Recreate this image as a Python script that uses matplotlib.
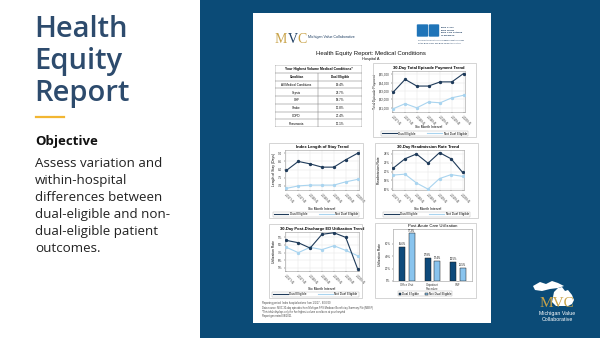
import numpy as np
import matplotlib
matplotlib.use("Agg")
import matplotlib.pyplot as plt
from matplotlib.patches import Rectangle, Polygon, FancyBboxPatch
from matplotlib.lines import Line2D

# ---- data -----------------------------------------------------------------
periods = ['2017 H1', '2017 H2', '2018 H1', '2018 H2', '2019 H1', '2019 H2', '2020 H1']

pay_dual = [22.9, 24.4, 23.6, 23.6, 24.1, 24.1, 25.1]      # $ thousands
pay_non = [20.9, 21.5, 21.0, 21.7, 21.6, 22.2, 22.5]
pay_ticks = [21, 22, 23, 24, 25]
pay_labels = ['$21,000', '$22,000', '$23,000', '$24,000', '$25,000']

los_dual = [7.95, 8.5, 8.35, 8.15, 8.15, 8.6, 9.0]
los_non = [6.85, 7.0, 7.05, 7.05, 7.05, 7.25, 7.4]
los_ticks = [7.0, 7.5, 8.0, 8.5, 9.0]
los_labels = ['7.0', '7.5', '8.0', '8.5', '9.0']

readm_dual = [20.8, 22.9, 24.0, 21.9, 24.3, 22.9, 19.8]
readm_non = [19.2, 19.4, 17.4, 16.0, 18.4, 19.3, 18.9]
readm_ticks = [16, 18, 20, 22, 24]
readm_labels = ['16%', '18%', '20%', '22%', '24%']

ed_dual = [8.6, 8.3, 7.6, 9.4, 9.6, 9.0, 4.9]
ed_non = [7.7, 7.0, 7.7, 7.4, 7.9, 7.3, 6.6]
ed_ticks = [5, 6, 7, 8, 9]
ed_labels = ['5%', '6%', '7%', '8%', '9%']

pac_cats = ['Office Visit', 'Outpatient\nProcedure', 'SNF']
pac_dual = [55.6, 37.8, 30.5]
pac_non = [77.3, 32.4, 21.5]
pac_ticks = [0, 20, 40, 60]
pac_labels = ['0%', '20%', '40%', '60%']

tbl_conditions = ['All Medical Conditions', 'Sepsis', 'CHF', 'Stroke', 'COPD', 'Pneumonia']
tbl_dual = ['19.4%', '23.7%', '18.7%', '17.8%', '27.4%', '17.1%']

footnotes = ['Reporting period: Index hospitalizations from 1/1/17 - 6/30/20',
             'Data source: MVC 30-day episodes from Michigan FFS Medicare Beneficiary Summary File (MBSF)',
             '*This table displays only the five highest volume conditions at your hospital',
             'Report generated 08/2021']

body_lines = ['Assess variation and', 'within-hospital', 'differences between',
              'dual-eligible and non-', 'dual-eligible patient', 'outcomes.']

# ---- layout helpers (pixel coords, y from top) ----------------------------
W, H = 600, 338
def fx(x): return x / W
def fy(y): return 1 - y / H
def fbox(x0, y0, x1, y1): return [x0 / W, 1 - y1 / H, (x1 - x0) / W, (y1 - y0) / H]

BLUE_BG = '#0b4b77'
NAVY_TXT = '#2d4b6d'
DARK = '#1f3b5a'
LIGHT = '#a9d4ef'
BAR_D = '#0e4a7b'
BAR_L = '#89c4ee'
GOLD = '#c9a349'
RF = 'Liberation Sans'

fig = plt.figure(figsize=(6, 3.38), dpi=100)
fig.patch.set_facecolor('white')

def frect(x0, y0, x1, y1, **kw):
    r = Rectangle((fx(x0), fy(y1)), (x1 - x0) / W, (y1 - y0) / H,
                  transform=fig.transFigure, **kw)
    fig.add_artist(r)
    return r

# slide background
frect(200, 0, 600, 338, facecolor=BLUE_BG, edgecolor='none', zorder=0)
frect(253, 13, 491, 323, facecolor='white', edgecolor='none', zorder=0)

# left text panel
for i, w in enumerate(['Health', 'Equity', 'Report']):
    fig.text(fx(34), fy(37 + i * 32), w, fontsize=21, family='Open Sans',
             fontweight='semibold', color=NAVY_TXT, va='baseline')
fig.add_artist(Line2D([fx(36), fx(64)], [fy(117), fy(117)], color='#f2b632',
                      lw=1.6, transform=fig.transFigure))
fig.text(fx(35), fy(145), 'Objective', fontsize=9.5, family='Open Sans',
         fontweight='bold', color='#111111', va='baseline')
for i, line in enumerate(body_lines):
    fig.text(fx(35), fy(167 + i * 17), line, fontsize=9.6, family='Open Sans',
             color='#222222', va='baseline')

# ---- report page header -----------------------------------------------------
fig.text(fx(275), fy(43), 'M', fontsize=10, family='Liberation Serif', color=GOLD, va='baseline')
fig.text(fx(287.5), fy(43), 'V', fontsize=10, family='Liberation Serif', color='#1f3f63', va='baseline')
fig.text(fx(297.5), fy(43), 'C', fontsize=10, family='Liberation Serif', color=GOLD, va='baseline')
fig.text(fx(308), fy(38), 'Michigan Value Collaborative', fontsize=2.6, family=RF,
         color='#1f3f63', va='baseline')

fig.add_artist(FancyBboxPatch((fx(418), fy(36)), 9 / W, 11 / H, boxstyle='round,pad=0.002',
                              transform=fig.transFigure, fc='#1f74b8', ec='none'))
fig.add_artist(FancyBboxPatch((fx(430), fy(36)), 8 / W, 11 / H, boxstyle='round,pad=0.002',
                              transform=fig.transFigure, fc='#1f74b8', ec='none'))
for i, t in enumerate(['Blue Cross', 'Blue Shield', 'Blue Care Network', 'of Michigan']):
    fig.text(fx(441), fy(28 + i * 2.6), t, fontsize=1.7, family=RF, fontweight='bold',
             color='#1f3f63', va='baseline')
fig.text(fx(418), fy(41), 'Nonprofit corporations and independent licensees', fontsize=1.5,
         family=RF, color='#1f3f63', va='baseline')
fig.text(fx(418), fy(43.5), 'of the Blue Cross and Blue Shield Association', fontsize=1.5,
         family=RF, color='#1f3f63', va='baseline')

fig.text(fx(371), fy(55), 'Health Equity Report: Medical Conditions', fontsize=4.3,
         family=RF, color='#111111', ha='center', va='baseline')
fig.text(fx(371), fy(60), 'Hospital A', fontsize=2.8, family=RF, color='#111111',
         ha='center', va='baseline')

# ---- table -------------------------------------------------------------------
tax = fig.add_axes(fbox(275, 65, 362, 127))
tax.set_xlim(0, 1)
tax.set_ylim(len(tbl_conditions) + 2, 0)
tax.axis('off')
split = (318 - 275) / (362 - 275)
nrows = len(tbl_conditions) + 2
for r in range(nrows + 1):
    tax.axhline(r, color='#777777', lw=0.35)
tax.vlines([0, 1], 0, nrows, color='#777777', lw=0.35)
tax.vlines(split, 1, nrows, color='#777777', lw=0.35)
tax.text(0.5, 0.55, 'Your Highest Volume Medical Conditions*', fontsize=2.4, family=RF,
         fontweight='bold', ha='center', va='center')
tax.text(split / 2, 1.55, 'Condition', fontsize=2.2, family=RF, fontweight='bold',
         ha='center', va='center')
tax.text((1 + split) / 2, 1.55, 'Dual Eligible', fontsize=2.2, family=RF, fontweight='bold',
         ha='center', va='center')
for i, (c, v) in enumerate(zip(tbl_conditions, tbl_dual)):
    tax.text(split / 2, i + 2.55, c, fontsize=2.2, family=RF, ha='center', va='center')
    tax.text((1 + split) / 2, i + 2.55, v, fontsize=2.2, family=RF, ha='center', va='center')

# ---- trend charts ------------------------------------------------------------
def style_axes(ax):
    for s in ax.spines.values():
        s.set_color('#9a9a9a')
        s.set_linewidth(0.4)
    ax.tick_params(length=1, width=0.3, labelsize=2.2, pad=0.8, colors='#333333')
    for lab in ax.get_xticklabels() + ax.get_yticklabels():
        lab.set_family(RF)

def trend(panel, abox, title, ylabel, dual, non, ylim, yticks, ylabels):
    frect(*panel, facecolor='none', edgecolor='#c4c4c4', lw=0.5)
    ax = fig.add_axes(fbox(*abox))
    x = np.arange(len(periods))
    ax.plot(x, non, color=LIGHT, lw=0.8, marker='o', ms=1.4, zorder=3)
    ax.plot(x, dual, color=DARK, lw=0.8, marker='o', ms=1.4, zorder=4)
    ax.set_xlim(-0.12, len(periods) - 0.88)
    ax.set_ylim(*ylim)
    ax.set_xticks(x)
    ax.set_xticklabels(periods, rotation=-45, ha='left', rotation_mode='anchor')
    ax.set_yticks(yticks)
    ax.set_yticklabels(ylabels)
    ax.grid(True, color='#e4e4e4', lw=0.35)
    ax.set_axisbelow(True)
    style_axes(ax)
    ax.set_title(title, fontsize=3.0, family=RF, fontweight='bold', pad=1.5)
    ax.set_ylabel(ylabel, fontsize=2.4, family=RF, labelpad=1.5)
    cx = (panel[0] + panel[2]) / 2
    fig.text(fx((abox[0] + abox[2]) / 2), fy(panel[3] - 9.5), 'Six Month Interval',
             fontsize=2.4, family=RF, ha='center', va='center')
    handles = [Line2D([], [], color=DARK, lw=0.8), Line2D([], [], color=LIGHT, lw=0.8)]
    leg = ax.legend(handles, ['Dual Eligible', 'Not Dual Eligible'], loc='center',
                    bbox_to_anchor=(fx(cx), fy(panel[3] - 3.5)), bbox_transform=fig.transFigure,
                    ncol=2, fontsize=2.1, frameon=True, fancybox=False, handlelength=5,
                    columnspacing=4, borderpad=0.3, handletextpad=0.5)
    leg.get_frame().set_edgecolor('#999999')
    leg.get_frame().set_linewidth(0.3)
    return ax

trend((373, 63, 476, 137), (392, 71, 465, 112), '30-Day Total Episode Payment Trend',
      'Total Episode Payment', pay_dual, pay_non, (20.5, 25.4), pay_ticks, pay_labels)
trend((269, 143, 363, 218), (285, 150, 359, 190), 'Index Length of Stay Trend',
      'Length of Stay (Days)', los_dual, los_non, (6.75, 9.2), los_ticks, los_labels)
trend((375, 143, 478, 218), (392, 150, 464, 190), '30-Day Readmission Rate Trend',
      'Readmission Rate', readm_dual, readm_non, (15.8, 24.9), readm_ticks, readm_labels)
trend((269, 224, 362, 298), (285, 232, 359, 271), '30-Day Post-Discharge ED Utilization Trend',
      'Utilization Rate', ed_dual, ed_non, (4.6, 9.7), ed_ticks, ed_labels)

# ---- post-acute bar chart ---------------------------------------------------
frect(375, 223, 476, 298, facecolor='none', edgecolor='#c4c4c4', lw=0.5)
bax = fig.add_axes(fbox(393, 229, 472, 281))
xb = np.arange(len(pac_cats))
bw = 0.23
b1 = bax.bar(xb - 0.19, pac_dual, bw, color=BAR_D, edgecolor='#1a1a1a', lw=0.35)
b2 = bax.bar(xb + 0.19, pac_non, bw, color=BAR_L, edgecolor='#1a1a1a', lw=0.35)
for bars, vals in ((b1, pac_dual), (b2, pac_non)):
    for b, v in zip(bars, vals):
        bax.text(b.get_x() + b.get_width() / 2, v + 1, f'{v:.1f}%', fontsize=1.8,
                 family=RF, ha='center', va='bottom')
bax.set_xlim(-0.55, 2.55)
bax.set_ylim(0, 84)
bax.set_xticks(xb)
bax.set_xticklabels(pac_cats, linespacing=0.9)
bax.set_yticks(pac_ticks)
bax.set_yticklabels(pac_labels)
bax.tick_params(axis='x', length=0)
style_axes(bax)
bax.tick_params(axis='x', labelsize=2.0, pad=0.6)
bax.set_title('Post-Acute Care Utilization', fontsize=3.0, family=RF, pad=1.5)
bax.set_ylabel('Utilization Rate', fontsize=2.4, family=RF, labelpad=1.5)
leg = bax.legend([b1, b2], ['Dual Eligible', 'Not Dual Eligible'], loc='center',
                 bbox_to_anchor=(fx(425), fy(293.5)), bbox_transform=fig.transFigure, ncol=2,
                 fontsize=2.0, frameon=True, fancybox=False, handlelength=1, handleheight=0.7,
                 columnspacing=2, borderpad=0.25, handletextpad=0.4)
leg.get_frame().set_edgecolor('#999999')
leg.get_frame().set_linewidth(0.3)

for i, t in enumerate(footnotes):
    fig.text(fx(262), fy(304 + i * 4.5), t, fontsize=1.8, family=RF, color='#444444',
             va='baseline')

# ---- bottom-right logo ----------------------------------------------------------
lax = fig.add_axes(fbox(528, 278, 588, 325))
lax.set_xlim(0, 60)
lax.set_ylim(47, 0)
lax.axis('off')
up = [(5, 8), (12, 4), (18, 6), (24, 3), (30, 5), (36, 8), (30, 10), (22, 11), (14, 13), (7, 12)]
lp = [(26, 14), (30, 10), (34, 9), (37, 13), (40, 12), (44, 17), (46, 22), (44, 26), (40, 28),
      (28, 28), (24, 24), (25, 19)]
lax.add_patch(Polygon(up, closed=True, fc='white', ec='none'))
lax.add_patch(Polygon(lp, closed=True, fc='white', ec='none'))
lax.text(29, 25.5, 'MVC', fontsize=11, family='Liberation Serif', color=GOLD,
         ha='center', va='center')
lax.text(29, 35.5, 'Michigan Value', fontsize=3.8, family=RF, color='white', ha='center', va='center')
lax.text(29, 41.5, 'Collaborative', fontsize=3.8, family=RF, color='white', ha='center', va='center')

fig.savefig('out.png', dpi=100, facecolor=fig.get_facecolor())
